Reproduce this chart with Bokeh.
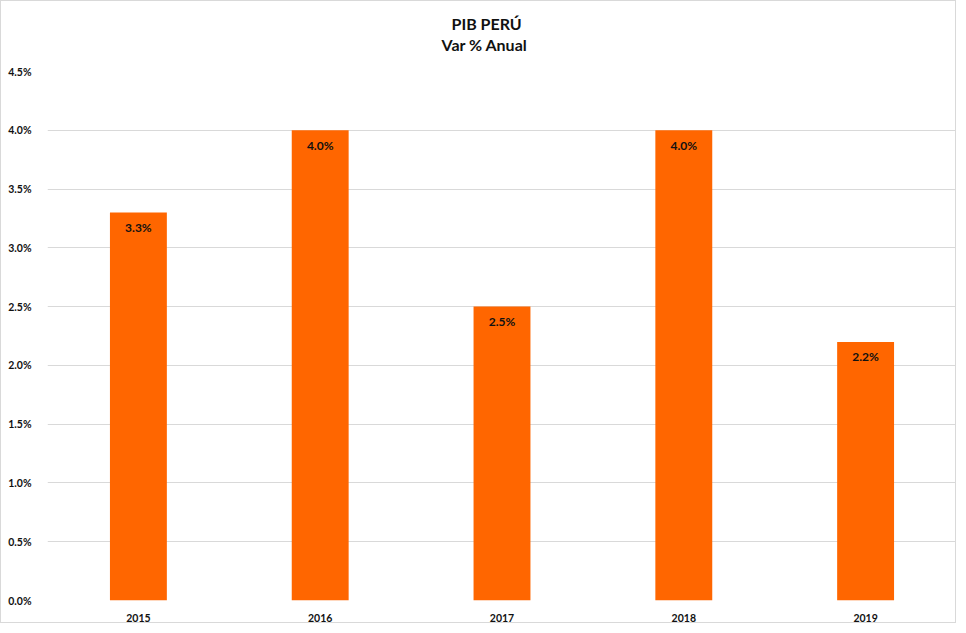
from bokeh.plotting import figure
from bokeh.models import ColumnDataSource, NumeralTickFormatter, FixedTicker, Range1d, LabelSet, Title
from bokeh.core.properties import value
from bokeh.embed import file_html
from bokeh.resources import INLINE

years = ["2015", "2016", "2017", "2018", "2019"]
values = [0.033, 0.040, 0.025, 0.040, 0.022]
labels = [f"{v*100:.1f}%" for v in values]
y_ticks = [0.0, 0.005, 0.010, 0.015, 0.020, 0.025, 0.030, 0.035, 0.040, 0.045]
title_main = "PIB PERÚ"
title_sub = "Var % Anual"

FONT = "Lato"
src = ColumnDataSource(dict(year=years, val=values, lab=labels))

p = figure(x_range=years, y_range=Range1d(0, 0.045), width=956, height=623,
           output_backend="svg", toolbar_location=None, title=None,
           min_border_left=46, min_border_right=1, min_border_bottom=24, min_border_top=70)
p.styles = {"border": "1px solid #d9d9d9"}

p.vbar(x="year", top="val", width=0.313, source=src, fill_color="#FF6600", line_color=None)

ls = LabelSet(x="year", y="val", text="lab", source=src, text_align="center",
              text_baseline="middle", y_offset=-15, text_font=value(FONT), text_font_size="12px",
              text_font_style="bold", text_color="#111111")
p.add_layout(ls)

# thin spacer panel between the frame and the subtitle
p.add_layout(Title(text=" ", text_font_size="1px", standoff=15), "above")
p.add_layout(Title(text=title_sub, align="left", vertical_align="bottom", text_font=FONT,
                   text_font_size="16px", text_font_style="bold", text_color="#111111",
                   offset=394, standoff=0), "above")
p.add_layout(Title(text=title_main, align="left", vertical_align="bottom", text_font=FONT,
                   text_font_size="16px", text_font_style="bold", text_color="#111111",
                   offset=404, standoff=0), "above")

p.yaxis.ticker = FixedTicker(ticks=y_ticks)
p.yaxis.formatter = NumeralTickFormatter(format="0.0%")
for ax in (p.xaxis, p.yaxis):
    ax.axis_line_color = None
    ax.major_tick_line_color = None
    ax.minor_tick_line_color = None
    ax.major_label_text_font = FONT
    ax.major_label_text_font_size = "10.5px"
    ax.major_label_text_font_style = "bold"
    ax.major_label_text_color = "#111111"
p.yaxis.major_label_standoff = 10
p.xaxis.major_label_standoff = 7

p.xgrid.grid_line_color = None
p.ygrid.grid_line_color = "#d9d9d9"
p.ygrid.grid_line_width = 1
p.outline_line_color = None
p.x_range.range_padding = 0

open("out.html", "w").write(file_html(p, INLINE))
